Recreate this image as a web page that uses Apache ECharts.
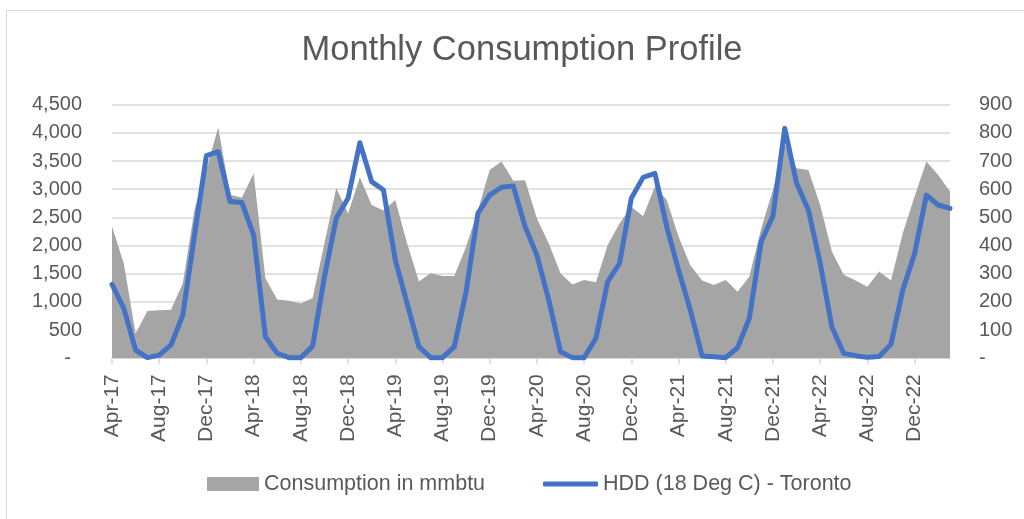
<!DOCTYPE html>
<html>
<head>
<meta charset="utf-8">
<script src="https://cdn.jsdelivr.net/npm/echarts@6/dist/echarts.min.js"></script>
<style>
  html, body { margin: 0; padding: 0; background: #fff; }
  #chart { width: 1024px; height: 519px; }
</style>
</head>
<body>
<div id="chart"></div>
<script>
// months Apr-17 .. Mar-23
const months = [
  'Apr-17','May-17','Jun-17','Jul-17','Aug-17','Sep-17','Oct-17','Nov-17','Dec-17','Jan-18','Feb-18','Mar-18',
  'Apr-18','May-18','Jun-18','Jul-18','Aug-18','Sep-18','Oct-18','Nov-18','Dec-18','Jan-19','Feb-19','Mar-19',
  'Apr-19','May-19','Jun-19','Jul-19','Aug-19','Sep-19','Oct-19','Nov-19','Dec-19','Jan-20','Feb-20','Mar-20',
  'Apr-20','May-20','Jun-20','Jul-20','Aug-20','Sep-20','Oct-20','Nov-20','Dec-20','Jan-21','Feb-21','Mar-21',
  'Apr-21','May-21','Jun-21','Jul-21','Aug-21','Sep-21','Oct-21','Nov-21','Dec-21','Jan-22','Feb-22','Mar-22',
  'Apr-22','May-22','Jun-22','Jul-22','Aug-22','Sep-22','Oct-22','Nov-22','Dec-22','Jan-23','Feb-23','Mar-23'
]

// consumption in mmbtu (left axis)
const consumption = [
  2340, 1680, 440, 840, 850, 860, 1330, 2650, 3350, 4100, 2900, 2850,
  3280, 1420, 1040, 1020, 970, 1070, 2040, 3020, 2570, 3210, 2720, 2620,
  2810, 2040, 1360, 1510, 1460, 1460, 1980, 2620, 3340, 3490, 3150, 3160,
  2480, 2040, 1510, 1310, 1390, 1350, 2010, 2390, 2690, 2520, 3050, 2810,
  2160, 1650, 1380, 1300, 1390, 1180, 1450, 2300, 2990, 3800, 3370, 3340,
  2720, 1890, 1480, 1380, 1270, 1540, 1380, 2220, 2870, 3490, 3250, 2960
]

// HDD 18 deg C, Toronto (right axis)
const hdd = [
  262, 177, 29, 2, 11, 47, 153, 440, 719, 733, 556, 553,
  437, 76, 17, 2, 2, 43, 289, 497, 568, 765, 627, 597,
  349, 195, 41, 2, 2, 41, 236, 514, 579, 607, 611, 467,
  366, 207, 23, 2, 2, 71, 272, 337, 568, 642, 656, 467,
  313, 171, 8, 5, 2, 37, 142, 414, 505, 816, 621, 526,
  337, 110, 17, 9, 3, 6, 50, 242, 372, 579, 544, 532
]

const textColor = '#595959'
const gridColor = '#d9d9d9'
const font = '"Liberation Sans", Arial, sans-serif'

const chart = echarts.init(document.getElementById('chart'))

chart.setOption({
  animation: false,
  textStyle: { fontFamily: font },
  title: {
    text: 'Monthly Consumption Profile',
    left: 522,
    top: 33,
    textAlign: 'center',
    padding: 0,
    textStyle: { fontSize: 34.5, fontWeight: 'normal', color: textColor, fontFamily: font }
  },
  graphic: [{
    type: 'rect',
    shape: { x: 6.5, y: 10.5, width: 1100, height: 600 },
    style: { fill: 'none', stroke: gridColor, lineWidth: 1 },
    silent: true
  }],
  legend: [
    {
      data: ['Consumption in mmbtu'],
      left: 207,
      top: 473,
      padding: 0,
      icon: 'rect',
      itemWidth: 52,
      itemHeight: 14,
      textStyle: { fontSize: 21.5, color: textColor, fontFamily: font }
    },
    {
      data: ['HDD (18 Deg C) - Toronto'],
      left: 543,
      top: 473,
      padding: 0,
      icon: 'roundRect',
      itemWidth: 55,
      itemHeight: 5,
      textStyle: { fontSize: 21.5, color: textColor, fontFamily: font }
    }
  ],
  grid: { left: 112, right: 74, top: 104.7, bottom: 160.8 },
  xAxis: {
    type: 'category',
    data: months,
    boundaryGap: false,
    axisLine: { lineStyle: { color: gridColor, width: 1.5 } },
    axisTick: { interval: 3, length: 6, lineStyle: { color: gridColor, width: 1.5 } },
    axisLabel: {
      interval: 3,
      rotate: 90,
      margin: 16,
      fontSize: 21,
      color: textColor,
      fontFamily: font
    },
    splitLine: { show: false }
  },
  yAxis: [
    {
      type: 'value',
      min: 0,
      max: 4500,
      interval: 500,
      axisLine: { show: false },
      axisTick: { show: false },
      axisLabel: {
        margin: 30,
        fontSize: 20,
        color: textColor,
        fontFamily: font,
        formatter: v => v === 0 ? '-  ' : v.toLocaleString('en-US')
      },
      splitLine: { lineStyle: { color: gridColor, width: 1.5 } }
    },
    {
      type: 'value',
      min: 0,
      max: 900,
      interval: 100,
      axisLine: { show: false },
      axisTick: { show: false },
      axisLabel: {
        margin: 29,
        fontSize: 20,
        color: textColor,
        fontFamily: font,
        formatter: v => v === 0 ? '-' : String(v)
      },
      splitLine: { show: false }
    }
  ],
  series: [
    {
      name: 'Consumption in mmbtu',
      type: 'line',
      data: consumption,
      symbol: 'none',
      color: '#a5a5a5',
      lineStyle: { width: 0 },
      areaStyle: { color: '#a5a5a5', opacity: 1 },
      z: 1
    },
    {
      name: 'HDD (18 Deg C) - Toronto',
      type: 'line',
      yAxisIndex: 1,
      data: hdd,
      symbol: 'none',
      color: '#4472c4',
      lineStyle: { width: 5, color: '#4472c4', join: 'round', cap: 'round' },
      z: 3
    }
  ]
})
</script>
</body>
</html>
